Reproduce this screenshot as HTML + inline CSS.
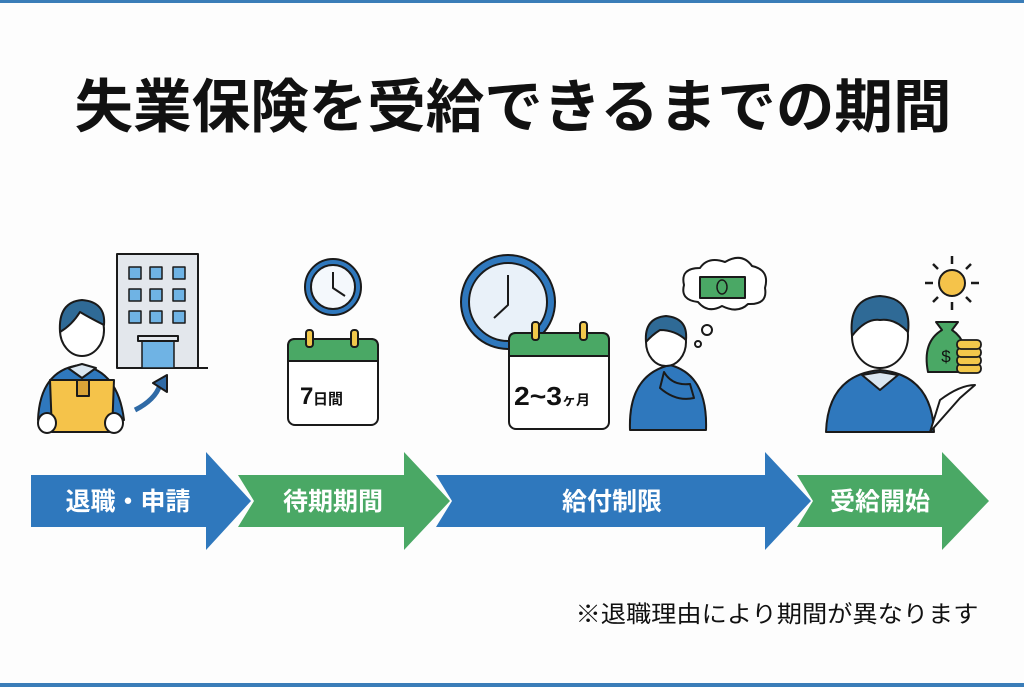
<!DOCTYPE html>
<html><head><meta charset="utf-8"><style>
html,body{margin:0;padding:0;background:#fff}
svg{display:block}
text{font-family:"Liberation Sans","Noto Sans CJK JP",sans-serif}
</style></head><body>
<svg width="1024" height="687" viewBox="0 0 1024 687" xmlns="http://www.w3.org/2000/svg">
<rect width="1024" height="687" fill="#fdfdfd"/>
<rect x="0" y="0" width="1024" height="3" fill="#3a7db8"/>
<rect x="0" y="683" width="1024" height="4" fill="#3a7db8"/>
<text x="513" y="127" font-size="58" font-weight="700" text-anchor="middle" fill="#111" textLength="877" lengthAdjust="spacingAndGlyphs">失業保険を受給できるまでの期間</text>

<!-- arrows -->
<polygon points="31,475 206,475 206,452 251,501 206,550 206,527 31,527" fill="#2f78bd"/>
<polygon points="238,475 404,475 404,452 450,501 404,550 404,527 238,527 254,501" fill="#4aa865"/>
<polygon points="436,475 765,475 765,452 811,501 765,550 765,527 436,527 452,501" fill="#2f78bd"/>
<polygon points="797,475 942,475 942,452 989,501 942,550 942,527 797,527 813,501" fill="#4aa865"/>
<g fill="#fff" font-size="25" font-weight="700" text-anchor="middle">
<text x="128" y="510">退職・申請</text>
<text x="333" y="510">待期期間</text>
<text x="612" y="510">給付制限</text>
<text x="880" y="510">受給開始</text>
</g>
<text x="777" y="622" font-size="23.5" text-anchor="middle" fill="#111" textLength="403" lengthAdjust="spacingAndGlyphs">※退職理由により期間が異なります</text>

<g stroke="#1a1a1a" stroke-width="2" stroke-linejoin="round">
<!-- building -->
<rect x="117" y="254" width="81" height="114" fill="#e3e7ec"/>
<line x1="117" y1="368" x2="208" y2="368"/>
<g fill="#6fb3e4" stroke-width="1.5">
<rect x="129" y="267" width="12" height="12"/><rect x="150" y="267" width="12" height="12"/><rect x="173" y="267" width="12" height="12"/>
<rect x="129" y="289" width="12" height="12"/><rect x="150" y="289" width="12" height="12"/><rect x="173" y="289" width="12" height="12"/>
<rect x="129" y="311" width="12" height="12"/><rect x="150" y="311" width="12" height="12"/><rect x="173" y="311" width="12" height="12"/>
<rect x="142" y="340" width="32" height="28"/>
</g>
<rect x="138" y="336" width="40" height="5" fill="#e3e7ec"/>
<!-- curved arrow -->
<path d="M135,410 Q155,400 160,385" fill="none" stroke="#2f6aa6" stroke-width="5"/>
<polygon points="153,383 167,375 167,392" fill="#2f6aa6"/>
<!-- person 1 -->
<path d="M38,420 Q40,370 80,365 Q118,370 124,420 Z" fill="#2f78bd"/>
<polygon points="68,368 82,378 96,368 82,364" fill="#dbe7f1"/>
<ellipse cx="82" cy="330" rx="22" ry="26" fill="#fff"/>
<path d="M60,332 Q58,302 82,300 Q106,302 104,325 Q90,318 80,312 Q72,325 60,332Z" fill="#2f6a96"/>
<path d="M50,380 L114,380 L112,432 L52,432Z" fill="#f5c34a"/>
<rect x="77" y="380" width="12" height="16" fill="#d9a337"/>
<ellipse cx="47" cy="423" rx="9" ry="10" fill="#fff"/><ellipse cx="114" cy="423" rx="9" ry="10" fill="#fff"/>
<!-- clock small -->
<circle cx="333" cy="287" r="28" fill="#2f78bd"/>
<circle cx="333" cy="287" r="22" fill="#f4f8fc"/>
<path d="M333,272 L333,288 L345,296" fill="none"/>
<!-- calendar 7 -->
<rect x="288" y="339" width="90" height="86" rx="7" fill="#fff"/>
<path d="M288,361 L288,346 Q288,339 295,339 L371,339 Q378,339 378,346 L378,361Z" fill="#4aa865"/>
<rect x="306" y="330" width="7" height="17" rx="3" fill="#f2c84b"/>
<rect x="351" y="330" width="7" height="17" rx="3" fill="#f2c84b"/>
<!-- big clock -->
<circle cx="508" cy="302" r="47" fill="#2f78bd"/>
<circle cx="508" cy="302" r="39" fill="#e9f1f9"/>
<path d="M508,275 L508,305 L494,318" fill="none"/>
<!-- calendar 2 -->
<rect x="509" y="333" width="100" height="96" rx="7" fill="#fff"/>
<path d="M509,356 L509,340 Q509,333 516,333 L602,333 Q609,333 609,340 L609,356Z" fill="#4aa865"/>
<rect x="532" y="322" width="7" height="18" rx="3" fill="#f2c84b"/>
<rect x="580" y="322" width="7" height="18" rx="3" fill="#f2c84b"/>
<!-- thinking person -->
<path d="M630,430 Q628,375 670,365 Q708,375 706,430Z" fill="#2f78bd"/>
<ellipse cx="666" cy="342" rx="20" ry="24" fill="#fff"/>
<path d="M646,342 Q644,318 666,316 Q688,318 686,340 Q675,330 660,330 Q652,335 646,342Z" fill="#2f6a96"/>
<path d="M664,372 Q672,386 690,384 L694,398 Q676,402 660,388Z" fill="#2f78bd"/>
<path d="M684,285 Q680,268 700,268 Q708,256 725,262 Q742,252 752,266 Q770,270 765,288 Q768,305 748,304 Q738,314 722,306 Q708,314 698,302 Q680,300 684,285Z" fill="#fff"/>
<rect x="700" y="277" width="45" height="21" fill="#4aa865"/>
<ellipse cx="722" cy="287" rx="5" ry="7" fill="none" stroke-width="1.5"/>
<circle cx="707" cy="330" r="5" fill="#fff"/><circle cx="698" cy="344" r="3" fill="#fff"/>
<!-- happy person -->
<path d="M826,432 Q828,375 880,370 Q932,375 934,432Z" fill="#2f78bd"/>
<polygon points="862,375 880,390 898,375 880,372" fill="#dbe7f1"/>
<ellipse cx="880" cy="336" rx="28" ry="32" fill="#fff"/>
<path d="M852,336 Q848,298 880,296 Q912,298 908,332 Q895,318 880,320 Q866,318 852,336Z" fill="#2f6a96"/>
<path d="M930,432 L940,400 Q960,385 975,385 L960,398 Z" fill="#fff"/>
<circle cx="952" cy="283" r="13" fill="#f5c34a"/>
<g stroke-width="2.5">
<line x1="952" y1="256" x2="952" y2="264"/><line x1="952" y1="302" x2="952" y2="310"/>
<line x1="925" y1="283" x2="933" y2="283"/><line x1="971" y1="283" x2="979" y2="283"/>
<line x1="933" y1="264" x2="938" y2="269"/><line x1="966" y1="297" x2="971" y2="302"/>
<line x1="971" y1="264" x2="966" y2="269"/><line x1="938" y1="297" x2="933" y2="302"/>
</g>
<path d="M942,330 L936,322 L958,322 L952,330 Q970,342 966,372 L928,372 Q922,342 942,330Z" fill="#4aa865"/>
<g fill="#f2c84b" stroke-width="1.8">
<rect x="957" y="364" width="24" height="9" rx="4"/>
<rect x="957" y="356" width="24" height="9" rx="4"/>
<rect x="957" y="348" width="24" height="9" rx="4"/>
<rect x="957" y="340" width="24" height="9" rx="4"/>
</g>
</g>
<g fill="#111" font-weight="700">
<text x="300" y="404" font-size="24">7</text><text x="313" y="404" font-size="15">日間</text>
<text x="514" y="405" font-size="26" textLength="48" lengthAdjust="spacingAndGlyphs">2~3</text><text x="562" y="405" font-size="14">ヶ月</text>
</g>
<text x="946" y="362" font-size="17" fill="#111" text-anchor="middle">$</text>
</svg>
</body></html>
